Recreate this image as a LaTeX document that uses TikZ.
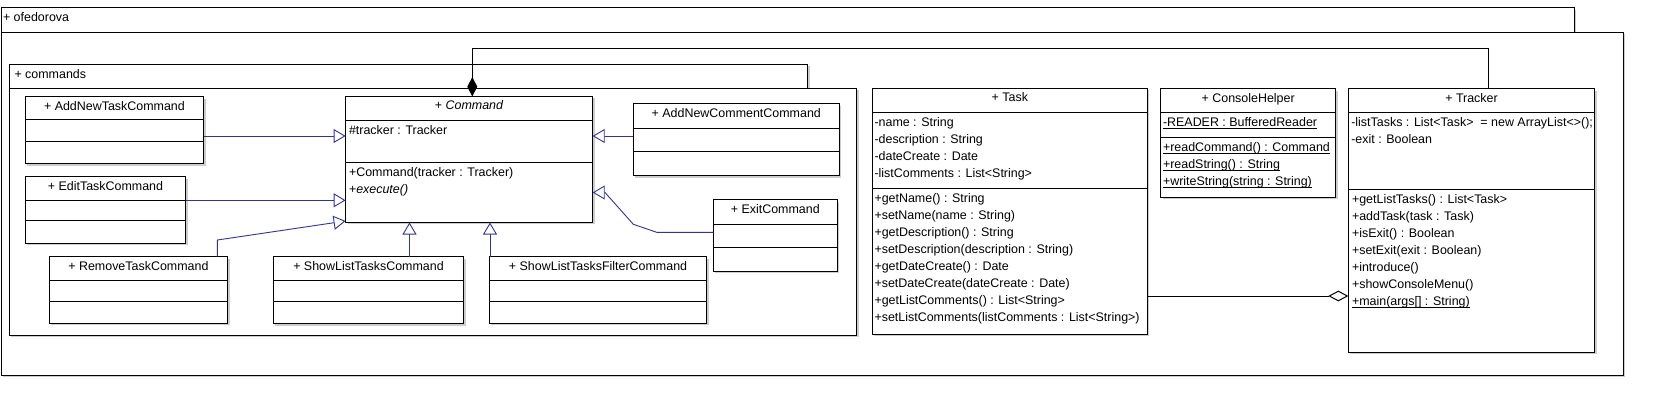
\documentclass[tikz,border=0pt]{standalone}
\usepackage{fontspec}
\setmainfont{Liberation Sans}
\usetikzlibrary{arrows.meta}
\definecolor{genblue}{RGB}{51,51,153}
\definecolor{shadowc}{RGB}{205,205,205}
\newcommand{\umlbox}[7]{%
  \fill[shadowc] (#2+2,#3+2) rectangle (#4+2,#5+2);
  \node[box, minimum width=#4-#2, minimum height=#5-#3] (#1) at (#2,#3) {};
  \draw[line width=1pt] (#1.west |- 0,#6) -- (#1.east |- 0,#6);
  \draw[line width=1pt] (#1.west |- 0,#7) -- (#1.east |- 0,#7);
}
\newcommand{\pkgbox}[5]{%
  \fill[shadowc] (#2+2,#3+2) rectangle (#4+2,#5+2);
  \node[box, minimum width=#4-#2, minimum height=#5-#3] (#1) at (#2,#3) {};
}
\newcommand{\ulx}[1]{\setbox0\hbox{#1}\rlap{\rule[-2pt]{\wd0}{0.8pt}}\box0}
\begin{document}
\begin{tikzpicture}[x=1pt,y=-1pt,
  box/.style={draw=black, fill=white, line width=1pt, inner sep=0pt, outer sep=0pt, anchor=north west},
  txt/.style={inner sep=0pt, outer sep=0pt, anchor=base west, font=\fontsize{12.45}{14}\selectfont},
  hdr/.style={inner sep=0pt, outer sep=0pt, anchor=base, font=\fontsize{12.45}{14}\selectfont},
  gen/.style={draw=genblue, line width=0.9pt, line join=miter, -{Triangle[length=12pt, width=14pt, fill=white]}},
  comp/.style={draw=black, line width=1pt, {Diamond[length=19.5pt, width=10pt]}-},
  aggr/.style={draw=black, line width=1pt, -{Diamond[length=20pt, width=10.7pt, fill=white]}}
]
\useasboundingbox (0,0) rectangle (1662,406);
\fill[white] (0,0) rectangle (1662,406);

% packages
\pkgbox{outertab}{1}{8}{1574.3}{32.3}
\pkgbox{outerbody}{1}{32.3}{1623.3}{375.3}
\node[txt] (outerlabel) at (3,22) {+ ofedorova};
\pkgbox{cmdtab}{9.2}{64.3}{807.7}{88.3}
\pkgbox{cmdbody}{9.2}{88.3}{856.7}{335}
\node[txt] (cmdlabel) at (14.5,78.3) {+ commands};

% classes
\umlbox{addtask}{25.3}{96.7}{203.6}{164}{120}{141.3}
\node[hdr] (addtask-h) at (114.45,110.2) {+ AddNewTaskCommand};

\umlbox{edit}{25.3}{176.7}{185.6}{243.3}{200.3}{221}
\node[hdr] (edit-h) at (105.45,190.2) {+ EditTaskCommand};

\umlbox{remove}{49.3}{256.7}{227.5}{323.3}{280.3}{301.3}
\node[hdr] (remove-h) at (138.4,270.2) {+ RemoveTaskCommand};

\umlbox{showlist}{273.2}{256.7}{463.8}{323.8}{280.3}{301.3}
\node[hdr] (showlist-h) at (368.5,270.2) {+ ShowListTasksCommand};

\umlbox{filter}{489.4}{256.7}{706.7}{323.3}{280.3}{301.3}
\node[hdr] (filter-h) at (598.05,270.2) {+ ShowListTasksFilterCommand};

\umlbox{command}{345.6}{96.5}{592.7}{222.5}{120.5}{162.3}
\node[hdr] (command-h) at (469.15,110) {+ \textit{Command}};
\node[txt] (command-a1) at (349,134.7) {\#tracker : Tracker};
\node[txt] (command-o1) at (349,176.7) {+Command(tracker : Tracker)};
\node[txt] (command-o2) at (349,193.9) {+\textit{execute()}};

\umlbox{comment}{633.3}{104}{839.3}{175.7}{128.3}{151.3}
\node[hdr] (comment-h) at (736.3,117.5) {+ AddNewCommentCommand};

\umlbox{exit}{713.3}{200}{837.3}{271}{224.3}{247.3}
\node[hdr] (exit-h) at (775.3,213.5) {+ ExitCommand};

\umlbox{task}{872.3}{88.3}{1147.3}{334}{112.3}{188.3}
\node[hdr] (task-h) at (1009.8,101.8) {+ Task};
\node[txt] (task-a1) at (874.5,126.7) {-name : String};
\node[txt] (task-a2) at (874.5,143.7) {-description : String};
\node[txt] (task-a3) at (874.5,160.7) {-dateCreate : Date};
\node[txt] (task-a4) at (874.5,177.7) {-listComments : List<String>};
\node[txt] (task-o1) at (874.5,202.5) {+getName() : String};
\node[txt] (task-o2) at (874.5,219.5) {+setName(name : String)};
\node[txt] (task-o3) at (874.5,236.5) {+getDescription() : String};
\node[txt] (task-o4) at (874.5,253.5) {+setDescription(description : String)};
\node[txt] (task-o5) at (874.5,270.5) {+getDateCreate() : Date};
\node[txt] (task-o6) at (874.5,287.5) {+setDateCreate(dateCreate : Date)};
\node[txt] (task-o7) at (874.5,304.5) {+getListComments() : List<String>};
\node[txt] (task-o8) at (874.5,321.5) {+setListComments(listComments : List<String>)};

\umlbox{console}{1160.7}{88.7}{1335.7}{197.3}{112.3}{137.3}
\node[hdr] (console-h) at (1248.2,102.2) {+ ConsoleHelper};
\node[txt] (console-a1) at (1163,126.7) {\ulx{-READER : BufferedReader}};
\node[txt] (console-o1) at (1163,151.7) {\ulx{+readCommand() : Command}};
\node[txt] (console-o2) at (1163,168.7) {\ulx{+readString() : String}};
\node[txt] (console-o3) at (1163,185.7) {\ulx{+writeString(string : String)}};

\umlbox{tracker}{1348.3}{88.7}{1594.7}{352.3}{112.3}{189.3}
\node[hdr] (tracker-h) at (1471.5,102.2) {+ Tracker};
\node[txt] (tracker-a1) at (1351.3,126.7) {-listTasks : List<Task>\ \ = new ArrayList<>();};
\node[txt] (tracker-a2) at (1351.3,143.7) {-exit : Boolean};
\node[txt] (tracker-o1) at (1352,203.7) {+getListTasks() : List<Task>};
\node[txt] (tracker-o2) at (1352,220.7) {+addTask(task : Task)};
\node[txt] (tracker-o3) at (1352,237.7) {+isExit() : Boolean};
\node[txt] (tracker-o4) at (1352,254.7) {+setExit(exit : Boolean)};
\node[txt] (tracker-o5) at (1352,271.7) {+introduce()};
\node[txt] (tracker-o6) at (1352,288.7) {+showConsoleMenu()};
\node[txt] (tracker-o7) at (1352,305.7) {\ulx{+main(args[] : String)}};

% connectors
\draw[gen] (addtask.east |- 0,136) -- (command.west |- 0,136);
\draw[gen] (edit.east |- 0,200.3) -- (command.west |- 0,200.3);
\coordinate (rbend) at (217.4,240);
\draw[gen] (remove.north -| rbend) -- (rbend) -- (command.west |- 0,221);
\draw[gen] (showlist.north -| 409.5,0) -- (command.south -| 409.5,0);
\draw[gen] (filter.north -| 490,0) -- (command.south -| 490,0);
\draw[gen] (comment.west |- 0,136) -- (command.east |- 0,136);
\coordinate (eb1) at (656.7,232.3);
\coordinate (eb2) at (633.3,224.3);
\coordinate (eb3) at (605,192.5);
\draw[gen] (exit.west |- eb1) -- (eb1) -- (eb2) -- (eb3) -- (command.east |- eb3);
\coordinate (cb1) at (472.3,48.7);
\coordinate (cb2) at (1488.3,48.7);
\draw[comp] (command.north -| cb1) -- (cb1) -- (cb2) -- (tracker.north -| cb2);
\draw[aggr] (task.east |- 0,296) -- (tracker.west |- 0,296);
\end{tikzpicture}
\end{document}
